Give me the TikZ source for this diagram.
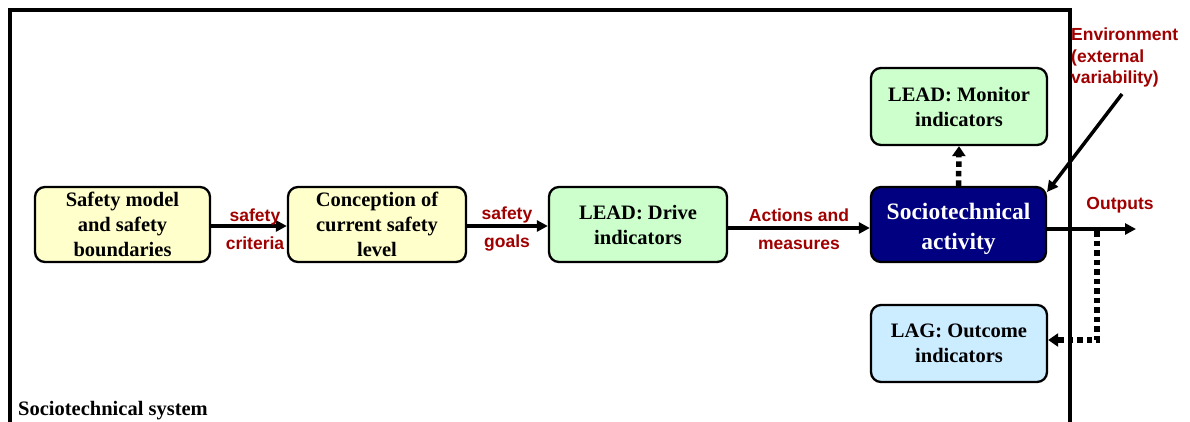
\documentclass[tikz,border=0pt]{standalone}
\usepackage{fontspec}
\setmainfont{Liberation Serif}
\setsansfont{Liberation Sans}
\usetikzlibrary{arrows.meta}
\definecolor{lblred}{HTML}{A00000}
\definecolor{boxyellow}{HTML}{FFFFCC}
\definecolor{boxgreen}{HTML}{CCFFCC}
\definecolor{boxblue}{HTML}{CCECFF}
\definecolor{navy}{HTML}{000080}
\begin{document}
\begin{tikzpicture}[x=1pt,y=1pt,
  box/.style={draw=black, line width=2.3pt, rounded corners=10pt, minimum width=175pt, minimum height=75pt, align=center, font=\fontsize{20.5}{25}\selectfont\bfseries, inner sep=1pt},
  lbl/.style={text=lblred, font=\sffamily\bfseries\fontsize{17.5}{28}\selectfont, align=center, inner sep=1pt},
  arr/.style={line width=3.5pt, -{Triangle[length=11pt,width=11pt]}},
  dotarr/.style={line width=5.5pt, dash pattern=on 5.5pt off 4pt, -{Triangle[length=10pt,width=13pt]}},
]
\useasboundingbox (0,-421) rectangle (1190,0);
\fill[white] (0,-421) rectangle (1190,0);
% frame
\draw[line width=3.5pt] (10,-424) -- (10,-10) -- (1070,-10) -- (1070,-424);
\node[anchor=west, font=\fontsize{20.5}{22}\selectfont\bfseries, inner sep=0pt] (sys) at (18,-411) {Sociotechnical system};

\node[box, fill=boxyellow] (sm) at (122.5,-224.5) {Safety model\\and safety\\boundaries};
\node[box, fill=boxyellow, minimum width=178pt] (cc) at (377,-224.5) {Conception of\\current safety\\level};
\node[box, fill=boxgreen, minimum width=178pt] (ld) at (638,-224.5) {LEAD: Drive\\indicators};
\node[box, fill=navy, minimum width=175pt] (sa) at (958.5,-224.5) {};
\node[align=center, text=white, font=\fontsize{23.5}{30}\selectfont\bfseries, inner sep=0pt] (satext) at ([yshift=-4pt]sa.center) {Sociotechnical\\activity};
\node[box, fill=boxgreen, minimum width=176pt, minimum height=77pt] (lm) at (959,-106.5) {LEAD: Monitor\\indicators};
\node[box, fill=boxblue, minimum width=176pt, minimum height=77pt] (lo) at (959,-343.5) {LAG: Outcome\\indicators};

\draw[arr] (sm.east |- 0,-226) -- (cc.west |- 0,-226);
\draw[arr] (cc.east |- 0,-226) -- (ld.west |- 0,-226);
\draw[arr] (ld.east |- 0,-228) -- (sa.west |- 0,-228);
\coordinate (out) at (1136,-229);
\draw[arr] (sa.east |- 0,-229) -- (out);

\node[lbl] (l1) at (255,-229) {safety\\criteria};
\node[lbl] (l2) at (507,-229) {safety\\goals};
\node[lbl] (l3) at (799,-229) {Actions and\\measures};
\node[lbl] (l4) at (1120,-205) {Outputs};
\node[lbl, anchor=north west, align=left, font=\sffamily\bfseries\fontsize{17.5}{21.5}\selectfont] (env) at (1070,-27) {Environment\\(external\\variability)};

\coordinate (envs) at (1122,-94);
\draw[arr] (envs) -- (1047,-192);

\draw[dotarr] (sa.north) -- (lm.south);
\coordinate (tap) at (1097,-231);
\draw[dotarr] (tap) -- (1097,-340) -- (lo.east |- 0,-340);
\end{tikzpicture}
\end{document}
